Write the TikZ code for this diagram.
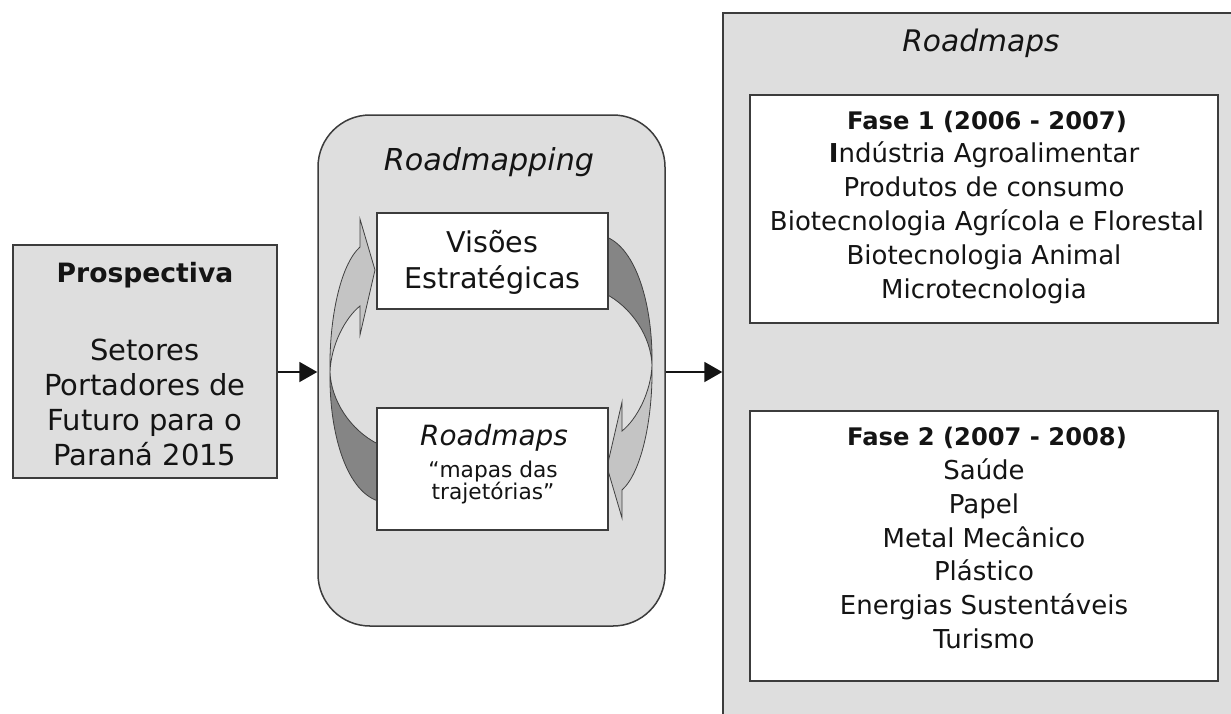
\documentclass[tikz,border=0pt]{standalone}
\usepackage{fontspec}
\setmainfont{DejaVu Sans}
\usetikzlibrary{arrows.meta}
\definecolor{boxgray}{HTML}{DEDEDE}
\definecolor{edge}{HTML}{3C3C3C}
\definecolor{lightarr}{HTML}{C4C4C4}
\definecolor{darkarr}{HTML}{858585}
\definecolor{ink}{HTML}{141414}
\newcommand\fsz[1]{\fontsize{#1}{#1}\selectfont}
\begin{document}
\begin{tikzpicture}[x=1pt,y=-1pt,
  graybox/.style={draw=edge,fill=boxgray,line width=1.5pt,inner sep=0pt},
  whitebox/.style={draw=edge,fill=white,line width=1.5pt,inner sep=0pt},
  txt/.style={anchor=base,inner sep=0pt,text=ink},
  conn/.style={line width=2pt,draw=ink,-{Triangle[length=18pt,width=20pt]}},
  arrline/.style={draw=black!75,line width=0.8pt},
  bodyA/.style={txt,font=\fsz{26}},
  headA/.style={txt,font=\fsz{24.2}\bfseries},
  lefttxt/.style={txt,font=\fsz{29}}]
\useasboundingbox (0,0) rectangle (1231,713);

% big Roadmaps box (cut by the page edge)
\begin{scope}
  \clip (0,0) rectangle (1231,713);
  \node[graybox,minimum width=527pt,minimum height=717pt] (big) at (986.5,371.5) {};
\end{scope}

% Prospectiva box
\node[graybox,minimum width=264pt,minimum height=233pt] (prosp) at (145,361.5) {};
% Roadmapping rounded box
\node[graybox,rounded corners=52pt,minimum width=347pt,minimum height=511pt] (rmp) at (491.5,370.5) {};

% curved arrows
\path[arrline,fill=lightarr] (330,372) .. controls (329,320) and (340,265) .. (360,247)
  -- (360,219) -- (375,270) -- (360,335) -- (360,306)
  .. controls (345,318) and (331,345) .. (330,372) -- cycle;
\path[arrline,fill=darkarr] (378,501) .. controls (345,490) and (329,430) .. (330,372)
  .. controls (331,400) and (350,430) .. (378,444) -- cycle;
\begin{scope}[rotate around={180:(491,368.5)}]
\path[arrline,fill=lightarr] (330,372) .. controls (329,320) and (340,265) .. (360,247)
  -- (360,219) -- (375,270) -- (360,335) -- (360,306)
  .. controls (345,318) and (331,345) .. (330,372) -- cycle;
\path[arrline,fill=darkarr] (378,501) .. controls (345,490) and (329,430) .. (330,372)
  .. controls (331,400) and (350,430) .. (378,444) -- cycle;
\end{scope}

% inner white boxes
\node[whitebox,minimum width=231pt,minimum height=96pt] (vis) at (492.5,261) {};
\node[whitebox,minimum width=231pt,minimum height=122pt] (rmb) at (492.5,469) {};
\node[whitebox,minimum width=468pt,minimum height=228pt] (f1) at (984,209) {};
\node[whitebox,minimum width=468pt,minimum height=270pt] (f2) at (984,546) {};

% connectors
\coordinate (ay) at (0,372);
\draw[conn] (prosp.east |- ay) -- (rmp.west |- ay);
\draw[conn] (rmp.east |- ay) -- (big.west |- ay);

% Prospectiva texts
\node[txt,font=\fsz{26.6}\bfseries] (p0) at (145,282) {Prospectiva};
\node[lefttxt] (p1) at (145,360) {Setores};
\node[lefttxt] (p2) at (145,395) {Portadores de};
\node[lefttxt] (p3) at (145,430) {Futuro para o};
\node[lefttxt] (p4) at (145,465) {Paraná 2015};

% Roadmapping texts
\node[txt,font=\fsz{30.2}\itshape] (r0) at (489,170) {Roadmapping};
\node[txt,font=\fsz{28.6}] (v1) at (492.5,252) {Visões};
\node[txt,font=\fsz{28.6}] (v2) at (492.5,288) {Estratégicas};
\node[txt,font=\fsz{27.9}\itshape] (m1) at (494,445) {Roadmaps};
\node[txt,font=\fsz{21.7}] (m2) at (493,477) {“mapas das};
\node[txt,font=\fsz{21.7}] (m3) at (493,499) {trajetórias”};

% Roadmaps texts
\node[txt,font=\fsz{29.7}\itshape] (t0) at (981,51) {Roadmaps};
\node[headA] (a0) at (987,129) {Fase 1 (2006 - 2007)};
\node[bodyA] (a1) at (984,162.8) {\textbf{I}ndústria Agroalimentar};
\node[bodyA] (a2) at (984,196.6) {Produtos de consumo};
\node[bodyA] (a3) at (987,230.4) {Biotecnologia Agrícola e Florestal};
\node[bodyA] (a4) at (984,264.2) {Biotecnologia Animal};
\node[bodyA] (a5) at (984,298) {Microtecnologia};

\node[headA] (b0) at (987,445) {Fase 2 (2007 - 2008)};
\node[bodyA] (b1) at (984,479) {Saúde};
\node[bodyA] (b2) at (984,513) {Papel};
\node[bodyA] (b3) at (984,547) {Metal Mecânico};
\node[bodyA] (b4) at (984,580.5) {Plástico};
\node[bodyA] (b5) at (984,614) {Energias Sustentáveis};
\node[bodyA] (b6) at (984,648) {Turismo};
\end{tikzpicture}
\end{document}
